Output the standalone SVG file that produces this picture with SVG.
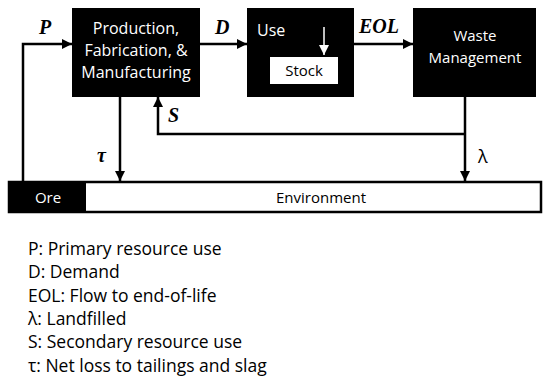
<svg xmlns="http://www.w3.org/2000/svg" width="550" height="386" viewBox="0 0 550 386">
<style>
.box{fill:#000}
.bt{font-family:"Open Sans","Liberation Sans",sans-serif;font-size:16px;fill:#fff;text-anchor:middle}
.ln{stroke:#000;stroke-width:2.5;fill:none}
.lb{font-family:"Liberation Serif",serif;font-weight:bold;font-style:italic;font-size:20px;fill:#000}
.lg{font-family:"Open Sans","Liberation Sans",sans-serif;font-size:17.5px;fill:#000}
</style>
<defs>
<marker id="ah" viewBox="0 0 10 10" refX="10" refY="5" markerWidth="4" markerHeight="4" orient="auto" markerUnits="strokeWidth">
<path d="M0,0 L10,5 L0,10 z" fill="#000"/>
</marker>
<marker id="wh" viewBox="0 0 10 10" refX="10" refY="5" markerWidth="7" markerHeight="7" orient="auto" markerUnits="strokeWidth">
<path d="M0,0 L10,5 L0,10 z" fill="#fff"/>
</marker>
</defs>
<rect width="550" height="386" fill="#fff"/>
<g id="environment">
<rect x="9" y="182" width="532" height="30" fill="#fff" stroke="#000" stroke-width="2.5"/>
<text x="321" y="203" text-anchor="middle" font-family="'Open Sans','Liberation Sans',sans-serif" font-size="15">Environment</text>
</g>
<g id="ore">
<rect x="8" y="181" width="78" height="32" class="box"/>
<text class="bt" x="48" y="203" font-size="15" style="font-size:15px">Ore</text>
</g>
<g id="production">
<rect x="72" y="8" width="128" height="89" class="box"/>
<text class="bt" x="136" y="34">Production,</text>
<text class="bt" x="136" y="56">Fabrication, &amp;</text>
<text class="bt" x="136" y="78">Manufacturing</text>
</g>
<g id="use">
<rect x="247" y="8" width="107" height="89" class="box"/>
<text class="bt" x="257" y="36" style="text-anchor:start">Use</text>
<rect x="270" y="57" width="68" height="27" fill="#fff"/>
<text x="304" y="76" text-anchor="middle" font-family="'Open Sans','Liberation Sans',sans-serif" font-size="15">Stock</text>
<line x1="324" y1="27" x2="324" y2="55" stroke="#fff" stroke-width="1.5" marker-end="url(#wh)"/>
</g>
<g id="waste">
<rect x="413" y="8" width="123" height="89" class="box"/>
<text class="bt" x="475" y="41" style="font-size:15px">Waste</text>
<text class="bt" x="475" y="63" style="font-size:15px">Management</text>
</g>
<g id="connectors">
<polyline class="ln" points="23,181 23,44 72,44" marker-end="url(#ah)"/>
<line class="ln" x1="200" y1="44" x2="247" y2="44" marker-end="url(#ah)"/>
<line class="ln" x1="354" y1="44" x2="413" y2="44" marker-end="url(#ah)"/>
<line class="ln" x1="465" y1="97" x2="465" y2="181" marker-end="url(#ah)"/>
<polyline class="ln" points="465,134 158,134 158,97" marker-end="url(#ah)"/>
<line class="ln" x1="120" y1="97" x2="120" y2="181" marker-end="url(#ah)"/>
</g>
<g id="labels">
<text class="lb" x="39" y="34">P</text>
<text class="lb" x="215" y="34">D</text>
<text class="lb" x="359" y="33">EOL</text>
<text class="lb" x="168" y="122">S</text>
<text class="lb" x="97" y="162">τ</text>
<text x="478" y="163" font-family="'Open Sans','Liberation Sans',sans-serif" font-size="18">λ</text>
</g>
<g id="legend">
<text class="lg" x="28" y="255">P: Primary resource use</text>
<text class="lg" x="28" y="278">D: Demand</text>
<text class="lg" x="28" y="302">EOL: Flow to end-of-life</text>
<text class="lg" x="28" y="325">λ: Landfilled</text>
<text class="lg" x="28" y="348">S: Secondary resource use</text>
<text class="lg" x="28" y="372">τ: Net loss to tailings and slag</text>
</g>
</svg>
